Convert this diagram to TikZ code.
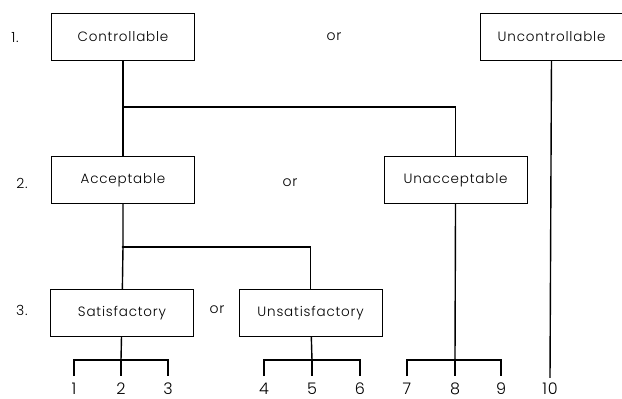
\documentclass[tikz,border=0pt]{standalone}
\usepackage{fontspec}
\setmainfont{Poppins}[UprightFont=* Light, LetterSpace=6]
\usepackage{tikz}
\usetikzlibrary{positioning}
\tikzset{
  box/.style={draw, line width=0.6pt, minimum width=143pt, minimum height=47pt, align=center, font=\fontsize{13.5}{15}\selectfont},
  edge/.style={line width=1.4pt},
  leaf/.style={inner sep=0pt, font=\fontsize{16}{18}\selectfont},
  note/.style={font=\fontsize{14}{16}\selectfont},
  jdot/.style={circle, fill, inner sep=0pt, minimum size=2.8pt}
}
\begin{document}
\begin{tikzpicture}[x=1pt, y=-1pt]
    \useasboundingbox (0,0) rectangle (622,399);
    % level boxes
    \node [box] (ctrl) at (123,36.5) {Controllable};
    \node [box, right=285pt of ctrl] (unctrl) {Uncontrollable};
    \node [box, below=96pt of ctrl] (acc) {Acceptable};
    \node [box, right=189pt of acc] (unacc) {Unacceptable};
    \node [box, below=85pt of acc, xshift=-1pt] (sat) {Satisfactory};
    \node [box, right=45pt of sat] (unsat) {Unsatisfactory};

    % row labels
    \node [note] (l1) at (15,38) {1.};
    \node [note] (l2) at (22,183) {2.};
    \node [note] (l3) at (22,310) {3.};
    \node [note] (or1) at (334,37) {or};
    \node [note] (or2) at (290,183) {or};
    \node [note] (or3) at (217,310) {or};

    % outcomes
    \foreach \i/\x in {1/74,2/121,3/168,4/264,5/312,6/360,7/407,8/455,9/501,10/550}
        \node [leaf] (n\i) at (\x,389) {\i};

    % branch points
    \coordinate (b1) at (ctrl.south |- 0,107);
    \coordinate (b2) at (acc.south |- 0,247);
    \coordinate (j1) at (n2 |- 0,360);
    \coordinate (j2) at (n5 |- 0,360);
    \coordinate (j3) at (n8 |- 0,360);

    \draw [edge] (ctrl) -- (b1) -- (acc);
    \draw [edge] (b1) -| (unacc);
    \draw [edge] (acc) -- (b2) -- (sat);
    \draw [edge] (b2) -| (unsat);
    \draw [edge] (sat) -- (j1);
    \draw [edge] (unsat) -- (j2);
    \draw [edge] (unacc) -- (j3);
    \draw [edge] ([yshift=7pt]n1.north) |- (j1) -| ([yshift=7pt]n3.north);
    \draw [edge] (j1) -- ([yshift=7pt]n2.north);
    \draw [edge] ([yshift=7pt]n4.north) |- (j2) -| ([yshift=7pt]n6.north);
    \draw [edge] (j2) -- ([yshift=7pt]n5.north);
    \draw [edge] ([yshift=7pt]n7.north) |- (j3) -| ([yshift=7pt]n9.north);
    \draw [edge] (j3) -- ([yshift=7pt]n8.north);
    \draw [edge] (unctrl) -- ([yshift=5pt]n10.north);
    \foreach \j in {b2,j1,j2,j3}
        \node [jdot] at (\j) {};
\end{tikzpicture}
\end{document}
